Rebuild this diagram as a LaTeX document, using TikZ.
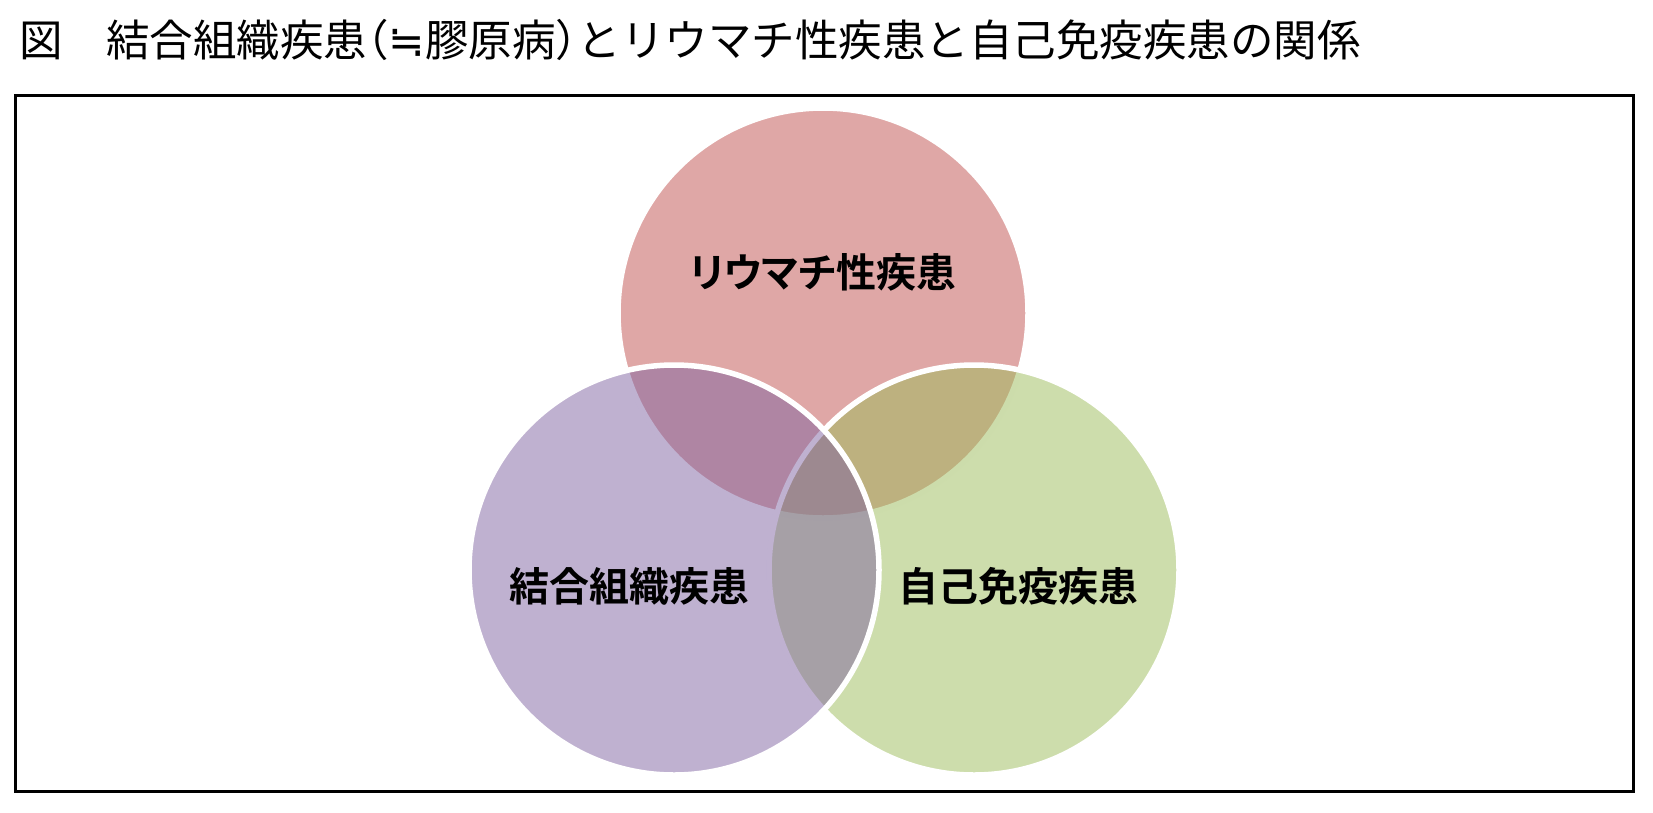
\documentclass[tikz,border=0pt]{standalone}
\usepackage{fontspec}
\newfontfamily\titlefont{Noto Sans CJK JP}
\newfontfamily\symfont{DejaVu Sans}
\newfontfamily\labelfont[RawFeature={+palt}]{Noto Sans CJK JP Bold}
\newcommand{\hw}[1]{{\addfontfeature{RawFeature=+halt}#1}}
\definecolor{rheum}{RGB}{192,80,77}
\definecolor{ctd}{RGB}{128,100,162}
\definecolor{autoimm}{RGB}{155,187,89}
\tikzset{
  venn/.style={draw=white, line width=5.5pt, fill opacity=0.5},
  vlabel/.style={font=\labelfont\fontsize{40}{44}\selectfont, inner sep=0pt}
}

\begin{document}
\begin{tikzpicture}[x=1pt, y=-1pt]
\useasboundingbox (0,0) rectangle (1653,812);
%%%%%%%%%
\node [anchor=west, inner sep=0pt, font=\titlefont\fontsize{43.5}{46}\selectfont] (title) at (19,40)
  {図　結合組織疾患\hw{（}{\symfont ≒}膠原病\hw{）}とリウマチ性疾患と自己免疫疾患の関係};
\draw [line width=3pt] (15.5,95.5) rectangle (1633,791);
%%%%%%%%%
\coordinate (C0) at (823,313);
\coordinate (C1) at (674,570);
\coordinate (C2) at (974,570);
\filldraw [venn, fill=rheum] (C0) circle (205pt);
\filldraw [venn, fill=autoimm] (C2) circle (205pt);
\filldraw [venn, fill=ctd] (C1) circle (205pt);
%%%%%%%%%
\node [vlabel] (rheumlabel) at (823,272) {リウマチ性疾患};
\node [vlabel] (ctdlabel) at (629,586) {結合組織疾患};
\node [vlabel] (autoimmlabel) at (1018,586) {自己免疫疾患};
\end{tikzpicture}
\end{document}
